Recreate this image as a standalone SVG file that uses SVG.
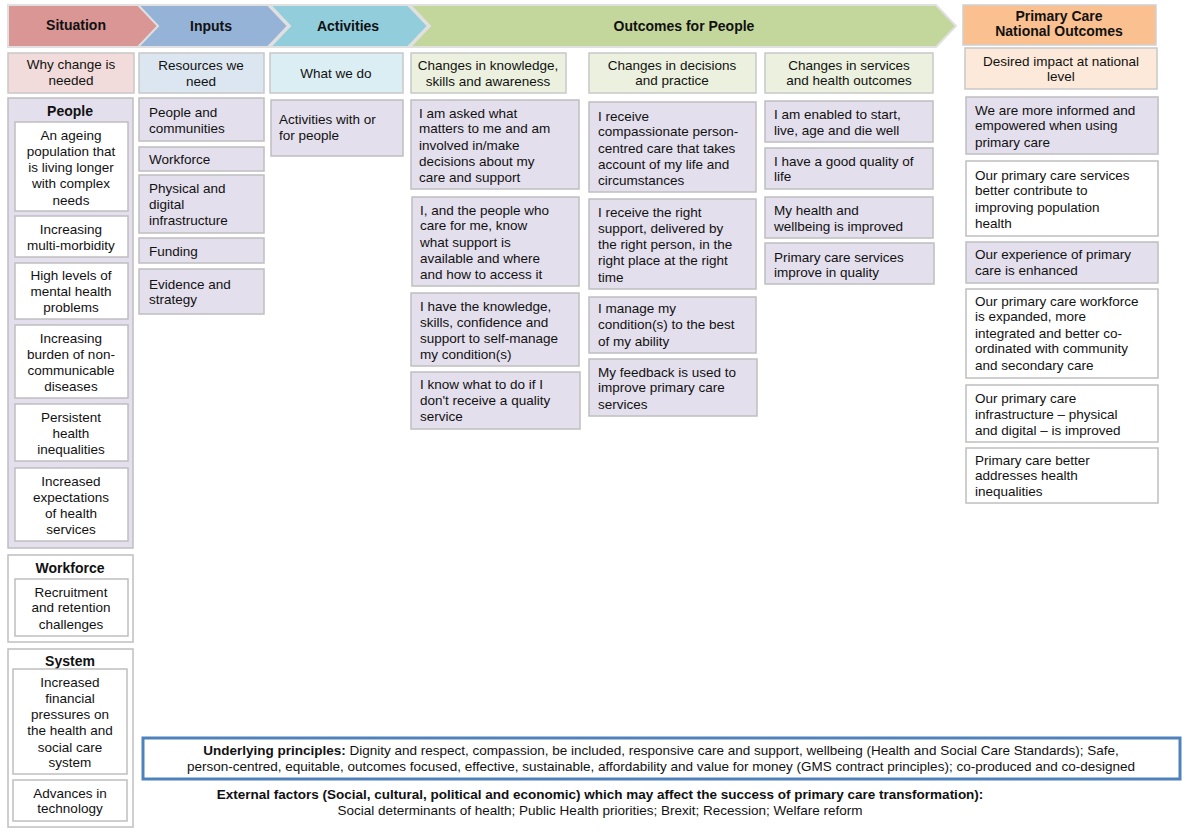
<svg xmlns="http://www.w3.org/2000/svg" width="1191" height="837" viewBox="0 0 1191 837">
<style>
text{font-family:"Liberation Sans",Arial,sans-serif;font-size:13.5px;fill:#111}
.h{font-weight:bold;font-size:14px}
.c{text-anchor:middle}
.p rect,rect.p{fill:#e4dfec;stroke:#bfbfbf;stroke-width:1.5}
.w rect,rect.w{fill:#fff;stroke:#bfbfbf;stroke-width:1.5}
.chev{stroke:#e0e0e0;stroke-width:2}
</style>
<rect width="1191" height="837" fill="#fff"/>
<g id="chevrons">
<polygon class="chev" points="8,5 140,5 160,26 140,47 8,47" fill="#d99694"/>
<polygon class="chev" points="138,5 268,5 288,26 268,47 138,47 158,26" fill="#95b3d7"/>
<polygon class="chev" points="270,5 408,5 428,26 408,47 270,47 290,26" fill="#92cddc"/>
<polygon class="chev" points="410,5 936,5 956,26 936,47 410,47 430,26" fill="#c3d69b"/>
<text class="h c" x="76" y="30">Situation</text>
<text class="h c" x="211" y="31">Inputs</text>
<text class="h c" x="348" y="31">Activities</text>
<text class="h c" x="684" y="31">Outcomes for People</text>
</g>
<g id="national-header"><rect x="963" y="5" width="193" height="40" fill="#fac090" stroke="#d0d0d0" stroke-width="1.5"/>
<text class="h c" x="1059" y="21">Primary Care</text><text class="h c" x="1059" y="36">National Outcomes</text></g>
<g id="subheaders" stroke="#c8c8c8" stroke-width="1.5">
<rect x="8" y="53" width="126" height="40" fill="#f2dcdb"/>
<rect x="139" y="53" width="125" height="40" fill="#dce6f1"/>
<rect x="270" y="53" width="133" height="40" fill="#dbeef3"/>
<rect x="411" y="53" width="155" height="40" fill="#ebf1de"/>
<rect x="589" y="53" width="167" height="40" fill="#ebf1de"/>
<rect x="765" y="53" width="168" height="40" fill="#ebf1de"/>
<rect x="965" y="48" width="192" height="41" fill="#fde9d9"/>
</g>
<g id="subheader-text" class="c">
<text class="c" x="71" y="69">Why change is</text><text class="c" x="71" y="85">needed</text>
<text class="c" x="201" y="70">Resources we</text><text class="c" x="201" y="86">need</text>
<text class="c" x="336" y="78">What we do</text>
<text class="c" x="488" y="70">Changes in knowledge,</text><text class="c" x="488" y="86">skills and awareness</text>
<text class="c" x="672" y="70">Changes in decisions</text><text class="c" x="672" y="85">and practice</text>
<text class="c" x="849" y="70">Changes in services</text><text class="c" x="849" y="85">and health outcomes</text>
<text class="c" x="1061" y="66">Desired impact at national</text><text class="c" x="1061" y="81">level</text>
</g>
<g id="people" class="p"><rect x="8" y="98" width="125" height="450"/><text class="h c" x="70" y="116">People</text>
<g class="w">
<rect x="15" y="122" width="113" height="89"/><rect x="15" y="216" width="113" height="41"/><rect x="15" y="263" width="113" height="56"/>
<rect x="15" y="325" width="113" height="73"/><rect x="15" y="404" width="113" height="57"/><rect x="15" y="468" width="113" height="73"/></g>
<text class="c" x="71" y="140">An ageing</text><text class="c" x="71" y="156">population that</text><text class="c" x="71" y="172">is living longer</text><text class="c" x="71" y="188">with complex</text><text class="c" x="71" y="205">needs</text>
<text class="c" x="71" y="234">Increasing</text><text class="c" x="71" y="250">multi-morbidity</text>
<text class="c" x="71" y="280">High levels of</text><text class="c" x="71" y="296">mental health</text><text class="c" x="71" y="312">problems</text>
<text class="c" x="71" y="343">Increasing</text><text class="c" x="71" y="359">burden of non-</text><text class="c" x="71" y="375">communicable</text><text class="c" x="71" y="391">diseases</text>
<text class="c" x="71" y="422">Persistent</text><text class="c" x="71" y="438">health</text><text class="c" x="71" y="454">inequalities</text>
<text class="c" x="71" y="486">Increased</text><text class="c" x="71" y="502">expectations</text><text class="c" x="71" y="518">of health</text><text class="c" x="71" y="534">services</text>
</g>
<g id="workforce" class="w"><rect x="8" y="555" width="125" height="87"/><text class="h c" x="70" y="573">Workforce</text>
<rect x="15" y="579" width="113" height="57"/>
<text class="c" x="71" y="597">Recruitment</text><text class="c" x="71" y="612">and retention</text><text class="c" x="71" y="629">challenges</text></g>
<g id="system" class="w"><rect x="8" y="649" width="125" height="178"/><text class="h c" x="70" y="666">System</text>
<rect x="13" y="669" width="114" height="105"/><rect x="13" y="780" width="114" height="41"/>
<text class="c" x="70" y="687">Increased</text><text class="c" x="70" y="703">financial</text><text class="c" x="70" y="719">pressures on</text><text class="c" x="70" y="735">the health and</text><text class="c" x="70" y="752">social care</text><text class="c" x="70" y="767">system</text>
<text class="c" x="70" y="798">Advances in</text><text class="c" x="70" y="813">technology</text></g>
<g id="inputs" class="p">
<rect x="139" y="98" width="125" height="43"/><rect x="139" y="147" width="125" height="24"/><rect x="139" y="175" width="125" height="58"/><rect x="139" y="238" width="125" height="25"/><rect x="139" y="269" width="125" height="45"/>
<text x="149" y="117">People and</text><text x="149" y="133">communities</text>
<text x="149" y="164">Workforce</text>
<text x="149" y="193">Physical and</text><text x="149" y="209">digital</text><text x="149" y="225">infrastructure</text>
<text x="149" y="256">Funding</text>
<text x="149" y="289">Evidence and</text><text x="149" y="304">strategy</text>
</g>
<g id="activities" class="p"><rect x="271" y="100" width="132" height="56"/>
<text x="279" y="124">Activities with or</text><text x="279" y="140">for people</text></g>
<g id="knowledge" class="p">
<rect x="411" y="100" width="168" height="89"/><rect x="412" y="197" width="167" height="89"/><rect x="411" y="293" width="168" height="73"/><rect x="411" y="372" width="169" height="57"/>
<text x="419" y="118">I am asked what</text><text x="419" y="133">matters to me and am</text><text x="419" y="150">involved in/make</text><text x="419" y="166">decisions about my</text><text x="419" y="182">care and support</text>
<text x="420" y="215">I, and the people who</text><text x="420" y="230">care for me, know</text><text x="420" y="247">what support is</text><text x="420" y="263">available and where</text><text x="420" y="279">and how to access it</text>
<text x="420" y="311">I have the knowledge,</text><text x="420" y="327">skills, confidence and</text><text x="420" y="343">support to self-manage</text><text x="420" y="359">my condition(s)</text>
<text x="420" y="389">I know what to do if I</text><text x="420" y="405">don't receive a quality</text><text x="420" y="421">service</text>
</g>
<g id="decisions" class="p">
<rect x="589" y="102" width="167" height="90"/><rect x="589" y="199" width="167" height="90"/><rect x="589" y="297" width="167" height="56"/><rect x="589" y="359" width="168" height="57"/>
<text x="598" y="121">I receive</text><text x="598" y="136">compassionate person-</text><text x="598" y="153">centred care that takes</text><text x="598" y="169">account of my life and</text><text x="598" y="185">circumstances</text>
<text x="598" y="217">I receive the right</text><text x="598" y="233">support, delivered by</text><text x="598" y="249">the right person, in the</text><text x="598" y="265">right place at the right</text><text x="598" y="282">time</text>
<text x="598" y="313">I manage my</text><text x="598" y="329">condition(s) to the best</text><text x="598" y="346">of my ability</text>
<text x="598" y="377">My feedback is used to</text><text x="598" y="392">improve primary care</text><text x="598" y="409">services</text>
</g>
<g id="services" class="p">
<rect x="765" y="101" width="168" height="41"/><rect x="765" y="148" width="168" height="41"/><rect x="765" y="197" width="168" height="41"/><rect x="765" y="243" width="169" height="41"/>
<text x="774" y="119">I am enabled to start,</text><text x="774" y="135">live, age and die well</text>
<text x="774" y="166">I have a good quality of</text><text x="774" y="181">life</text>
<text x="774" y="215">My health and</text><text x="774" y="231">wellbeing is improved</text>
<text x="774" y="262">Primary care services</text><text x="774" y="277">improve in quality</text>
</g>
<g id="national">
<rect class="p" x="966" y="97" width="192" height="57"/><rect class="w" x="966" y="161" width="192" height="75"/><rect class="p" x="966" y="242" width="192" height="41"/>
<rect class="w" x="966" y="289" width="192" height="89"/><rect class="w" x="966" y="385" width="192" height="57"/><rect class="w" x="966" y="448" width="192" height="55"/>
<text x="975" y="115">We are more informed and</text><text x="975" y="130">empowered when using</text><text x="975" y="147">primary care</text>
<text x="975" y="180">Our primary care services</text><text x="975" y="195">better contribute to</text><text x="975" y="212">improving population</text><text x="975" y="228">health</text>
<text x="975" y="259">Our experience of primary</text><text x="975" y="275">care is enhanced</text>
<text x="975" y="306">Our primary care workforce</text><text x="975" y="321">is expanded, more</text><text x="975" y="338">integrated and better co-</text><text x="975" y="353">ordinated with community</text><text x="975" y="370">and secondary care</text>
<text x="975" y="403">Our primary care</text><text x="975" y="419">infrastructure  – physical</text><text x="975" y="435">and digital – is improved</text>
<text x="975" y="465">Primary care better</text><text x="975" y="480">addresses health</text><text x="975" y="496">inequalities</text>
</g>
<g id="principles"><rect x="143" y="738" width="1037" height="41" fill="#fff" stroke="#4f81bd" stroke-width="3"/>
<text class="c" x="661" y="755"><tspan font-weight="bold">Underlying principles:</tspan>  Dignity and respect, compassion, be included, responsive care and support, wellbeing (Health and Social Care Standards); Safe,</text>
<text class="c" x="661" y="771">person-centred, equitable, outcomes focused, effective, sustainable, affordability and value for money (GMS contract principles); co-produced and co-designed</text></g>
<g id="external">
<text class="c" x="600" y="799" font-weight="bold">External factors (Social, cultural, political and economic) which may affect the success of primary care transformation):</text>
<text class="c" x="600" y="815">Social determinants of health; Public Health priorities; Brexit; Recession; Welfare reform</text></g>
<g id="connectors"/>
</svg>
